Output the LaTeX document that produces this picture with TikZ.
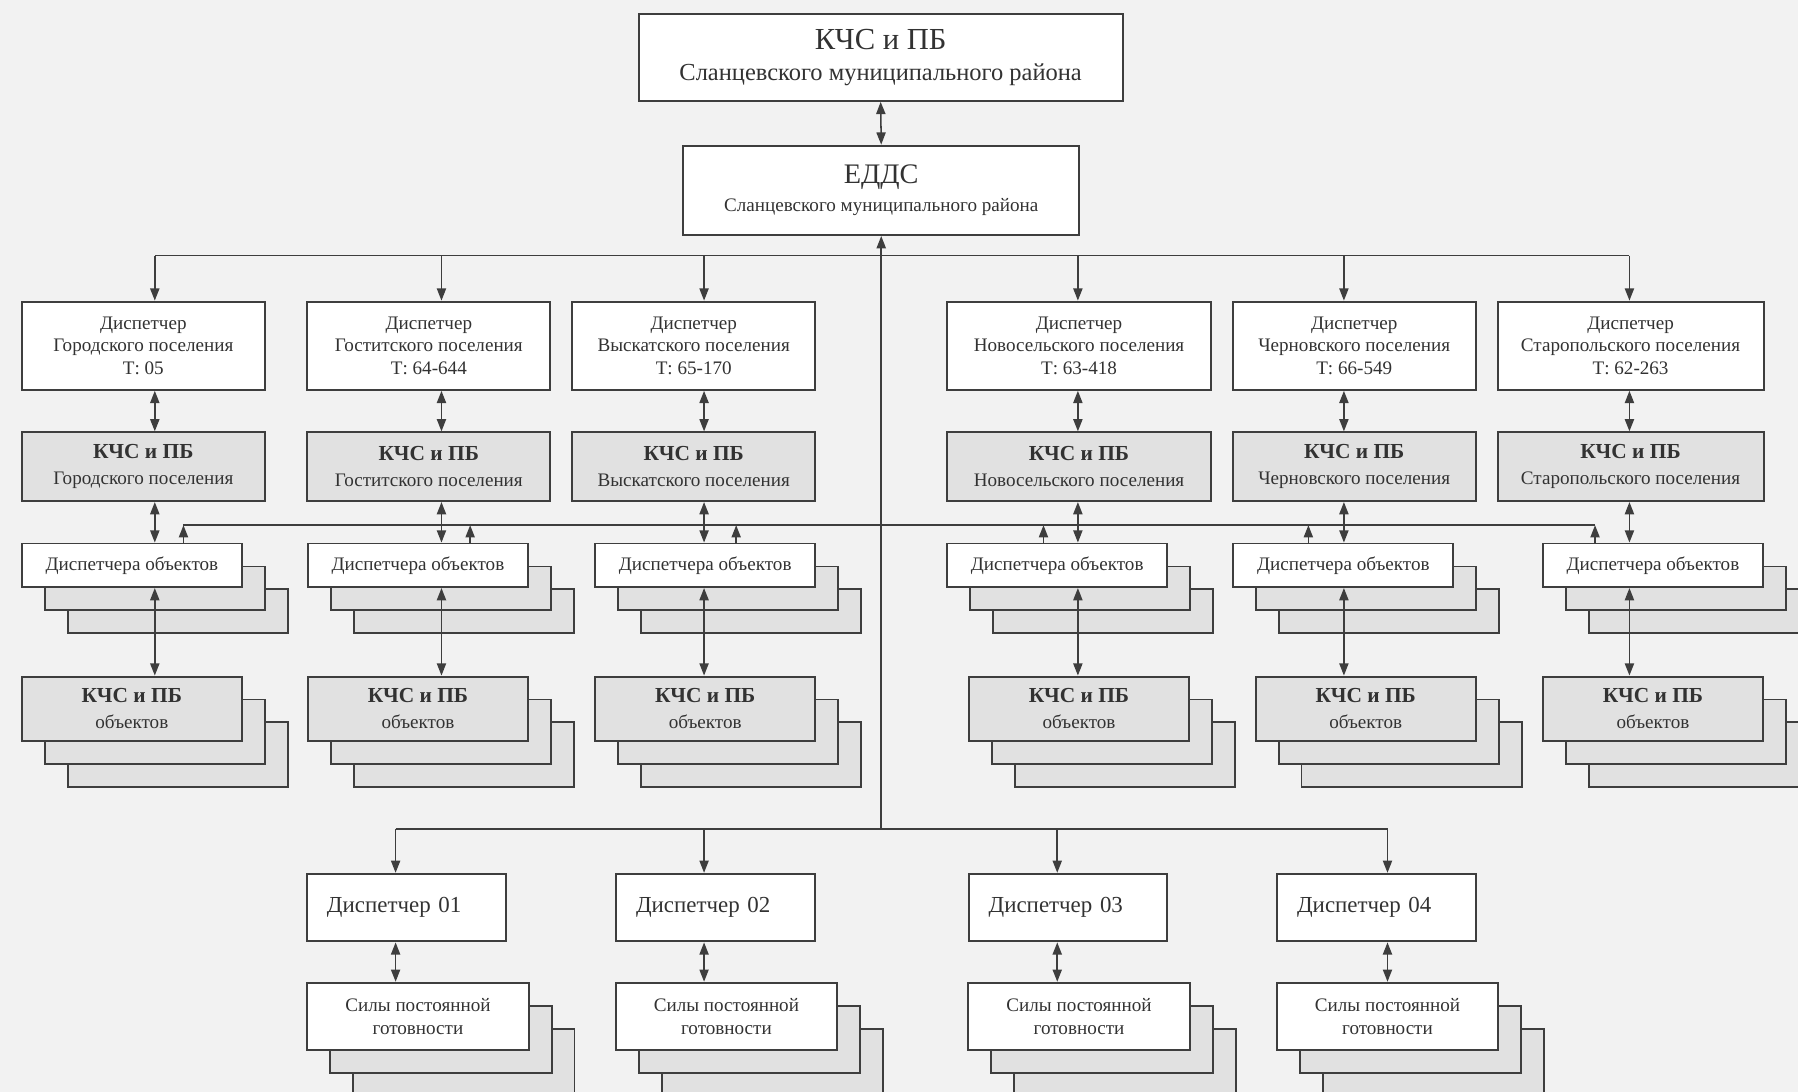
\documentclass[tikz,border=0pt]{standalone}
\usepackage{fontspec}
\setmainfont{Liberation Serif}
\usepackage{tikz}
\usetikzlibrary{arrows.meta,shadows}

\definecolor{linecol}{RGB}{62,62,62}
\definecolor{inkcol}{RGB}{50,50,50}
\definecolor{paper}{RGB}{242,242,242}
\definecolor{shade}{RGB}{225,225,225}

\newcommand{\bodysize}{\fontsize{12.5}{14.6}\selectfont}
\newcommand{\headsize}{\fontsize{14}{16.5}\bfseries\selectfont}

\tikzset{
  plainbox/.style={draw=linecol, line width=1.25pt, fill=white, text=inkcol, inner sep=0pt, align=center, font=\bodysize},
  greybox/.style={plainbox, fill=shade},
  pile/.style={general shadow={shadow xshift=30pt, shadow yshift=-30pt, fill=shade, draw=linecol, line width=1.25pt},
               general shadow={shadow xshift=15pt, shadow yshift=-15pt, fill=shade, draw=linecol, line width=1.25pt}},
  bus/.style={draw=linecol, line width=1pt},
  feed/.style={bus, -{Triangle[length=8pt,width=6pt]}},
  duplex/.style={bus, {Triangle[length=8pt,width=6pt]}-{Triangle[length=8pt,width=6pt]}}
}

\begin{document}
\begin{tikzpicture}[x=0.75pt,y=0.75pt,yscale=-1,xscale=1]
\useasboundingbox (0,0) rectangle (1568,952);
\fill[paper] (0,0) rectangle (1568,952);

% axes of the connectors
\coordinate (a1) at (135,0);
\coordinate (a2) at (385,0);
\coordinate (a3) at (614,0);
\coordinate (a4) at (940,0);
\coordinate (a5) at (1172,0);
\coordinate (a6) at (1421,0);
\coordinate (u1) at (160,0);
\coordinate (u2) at (410,0);
\coordinate (u3) at (642,0);
\coordinate (u4) at (910,0);
\coordinate (u5) at (1141,0);
\coordinate (u6) at (1391,0);
\coordinate (b1) at (345,0);
\coordinate (b2) at (614,0);
\coordinate (b3) at (922,0);
\coordinate (b4) at (1210,0);
\coordinate (bustop) at (0,223);
\coordinate (busmid) at (0,458);
\coordinate (buslow) at (0,723);

% district level
\node[plainbox, minimum width=316.5pt, minimum height=57pt] (kchsraion) at (768,50) {{\fontsize{20}{24}\selectfont КЧС и ПБ}\\[5.5pt]{\fontsize{16}{19}\selectfont Сланцевского муниципального района}};
\node[plainbox, minimum width=258.75pt, minimum height=58.5pt] (edds) at (768.5,166) {{\fontsize{18.5}{22}\selectfont ЕДДС}\\[4pt]Сланцевского муниципального района};

% settlement dispatchers
\node[plainbox, minimum width=159pt, minimum height=57.75pt] (disp1) at (125,301.5) {Диспетчер\\Городского поселения\\Т: 05};
\node[plainbox, minimum width=159pt, minimum height=57.75pt] (disp2) at (374,301.5) {Диспетчер\\Гоститского поселения\\Т: 64-644};
\node[plainbox, minimum width=159pt, minimum height=57.75pt] (disp3) at (605,301.5) {Диспетчер\\Выскатского поселения\\Т: 65-170};
\node[plainbox, minimum width=172.5pt, minimum height=57.75pt] (disp4) at (941,301.5) {Диспетчер\\Новосельского поселения\\Т: 63-418};
\node[plainbox, minimum width=159pt, minimum height=57.75pt] (disp5) at (1181,301.5) {Диспетчер\\Черновского поселения\\Т: 66-549};
\node[plainbox, minimum width=174pt, minimum height=57.75pt] (disp6) at (1422,301.5) {Диспетчер\\Старопольского поселения\\Т: 62-263};

% settlement commissions
\node[greybox, minimum width=159pt, minimum height=45pt] (kchs1) at (125,407) {{\headsize КЧС и ПБ}\\[2.5pt]Городского поселения};
\node[greybox, minimum width=159pt, minimum height=45pt] (kchs2) at (374,407) {{\headsize КЧС и ПБ}\\[2.5pt]Гоститского поселения};
\node[greybox, minimum width=159pt, minimum height=45pt] (kchs3) at (605,407) {{\headsize КЧС и ПБ}\\[2.5pt]Выскатского поселения};
\node[greybox, minimum width=172.5pt, minimum height=45pt] (kchs4) at (941,407) {{\headsize КЧС и ПБ}\\[2.5pt]Новосельского поселения};
\node[greybox, minimum width=159pt, minimum height=45pt] (kchs5) at (1181,407) {{\headsize КЧС и ПБ}\\[2.5pt]Черновского поселения};
\node[greybox, minimum width=174pt, minimum height=45pt] (kchs6) at (1422,407) {{\headsize КЧС и ПБ}\\[2.5pt]Старопольского поселения};

% object dispatchers (stacked)
\node[plainbox, pile, minimum width=144pt, minimum height=28.5pt] (objdisp1) at (115,493) {Диспетчера объектов};
\node[plainbox, pile, minimum width=144pt, minimum height=28.5pt] (objdisp2) at (364.5,493) {Диспетчера объектов};
\node[plainbox, pile, minimum width=144pt, minimum height=28.5pt] (objdisp3) at (615,493) {Диспетчера объектов};
\node[plainbox, pile, minimum width=144pt, minimum height=28.5pt] (objdisp4) at (922,493) {Диспетчера объектов};
\node[plainbox, pile, minimum width=144pt, minimum height=28.5pt] (objdisp5) at (1171.5,493) {Диспетчера объектов};
\node[plainbox, pile, minimum width=144pt, minimum height=28.5pt] (objdisp6) at (1441.5,493) {Диспетчера объектов};

% object commissions (stacked)
\node[greybox, pile, minimum width=144pt, minimum height=42pt] (objkchs1) at (115,618) {{\headsize КЧС и ПБ}\\[2.5pt]объектов};
\node[greybox, pile, minimum width=144pt, minimum height=42pt] (objkchs2) at (364.5,618) {{\headsize КЧС и ПБ}\\[2.5pt]объектов};
\node[greybox, pile, minimum width=144pt, minimum height=42pt] (objkchs3) at (615,618) {{\headsize КЧС и ПБ}\\[2.5pt]объектов};
\node[greybox, pile, minimum width=144pt, minimum height=42pt] (objkchs4) at (941,618) {{\headsize КЧС и ПБ}\\[2.5pt]объектов};
\node[greybox, pile, minimum width=144pt, minimum height=42pt] (objkchs5) at (1191,618) {{\headsize КЧС и ПБ}\\[2.5pt]объектов};
\node[greybox, pile, minimum width=144pt, minimum height=42pt] (objkchs6) at (1441.5,618) {{\headsize КЧС и ПБ}\\[2.5pt]объектов};

% services 01-04
\node[plainbox, minimum width=129.75pt, minimum height=44.25pt, text width=104pt, align=left, font=\fontsize{15}{18}\selectfont] (dd1) at (354.5,791.5) {Диспетчер 01};
\node[plainbox, minimum width=129.75pt, minimum height=44.25pt, text width=104pt, align=left, font=\fontsize{15}{18}\selectfont] (dd2) at (624,791.5) {Диспетчер 02};
\node[plainbox, minimum width=129.75pt, minimum height=44.25pt, text width=104pt, align=left, font=\fontsize{15}{18}\selectfont] (dd3) at (931.5,791.5) {Диспетчер 03};
\node[plainbox, minimum width=129.75pt, minimum height=44.25pt, text width=104pt, align=left, font=\fontsize{15}{18}\selectfont] (dd4) at (1200.5,791.5) {Диспетчер 04};

\node[plainbox, pile, minimum width=144.75pt, minimum height=44.25pt] (sily1) at (364.5,886.5) {Силы постоянной\\готовности};
\node[plainbox, pile, minimum width=144.75pt, minimum height=44.25pt] (sily2) at (633.5,886.5) {Силы постоянной\\готовности};
\node[plainbox, pile, minimum width=144.75pt, minimum height=44.25pt] (sily3) at (941,886.5) {Силы постоянной\\готовности};
\node[plainbox, pile, minimum width=144.75pt, minimum height=44.25pt] (sily4) at (1210,886.5) {Силы постоянной\\готовности};

% Straight Lines
\draw[duplex] (kchsraion.south) -- (edds.north);
\draw[feed] (buslow -| edds.south) -- (edds.south);
\draw[bus] (bustop -| a1) -- (bustop -| a6);
\draw[bus] (busmid -| u1) -- (busmid -| u6);
\draw[bus] (buslow -| b1) -- (buslow -| b4);

% Straight Lines: to settlement dispatchers
\draw[feed] (bustop -| a1) -- (disp1.north -| a1);
\draw[feed] (bustop -| a2) -- (disp2.north -| a2);
\draw[feed] (bustop -| a3) -- (disp3.north -| a3);
\draw[feed] (bustop -| a4) -- (disp4.north -| a4);
\draw[feed] (bustop -| a5) -- (disp5.north -| a5);
\draw[feed] (bustop -| a6) -- (disp6.north -| a6);

% Straight Lines: dispatcher - commission
\draw[duplex] (disp1.south -| a1) -- (kchs1.north -| a1);
\draw[duplex] (disp2.south -| a2) -- (kchs2.north -| a2);
\draw[duplex] (disp3.south -| a3) -- (kchs3.north -| a3);
\draw[duplex] (disp4.south -| a4) -- (kchs4.north -| a4);
\draw[duplex] (disp5.south -| a5) -- (kchs5.north -| a5);
\draw[duplex] (disp6.south -| a6) -- (kchs6.north -| a6);

% Straight Lines: commission - object dispatchers
\draw[duplex] (kchs1.south -| a1) -- (objdisp1.north -| a1);
\draw[duplex] (kchs2.south -| a2) -- (objdisp2.north -| a2);
\draw[duplex] (kchs3.south -| a3) -- (objdisp3.north -| a3);
\draw[duplex] (kchs4.south -| a4) -- (objdisp4.north -| a4);
\draw[duplex] (kchs5.south -| a5) -- (objdisp5.north -| a5);
\draw[duplex] (kchs6.south -| a6) -- (objdisp6.north -| a6);

% Straight Lines: object dispatchers up to the bus
\draw[feed] (objdisp1.north -| u1) -- (busmid -| u1);
\draw[feed] (objdisp2.north -| u2) -- (busmid -| u2);
\draw[feed] (objdisp3.north -| u3) -- (busmid -| u3);
\draw[feed] (objdisp4.north -| u4) -- (busmid -| u4);
\draw[feed] (objdisp5.north -| u5) -- (busmid -| u5);
\draw[feed] (objdisp6.north -| u6) -- (busmid -| u6);

% Straight Lines: object dispatchers - object commissions
\draw[duplex] (objdisp1.south -| a1) -- (objkchs1.north -| a1);
\draw[duplex] (objdisp2.south -| a2) -- (objkchs2.north -| a2);
\draw[duplex] (objdisp3.south -| a3) -- (objkchs3.north -| a3);
\draw[duplex] (objdisp4.south -| a4) -- (objkchs4.north -| a4);
\draw[duplex] (objdisp5.south -| a5) -- (objkchs5.north -| a5);
\draw[duplex] (objdisp6.south -| a6) -- (objkchs6.north -| a6);

% Straight Lines: services
\draw[feed] (buslow -| b1) -- (dd1.north -| b1);
\draw[feed] (buslow -| b2) -- (dd2.north -| b2);
\draw[feed] (buslow -| b3) -- (dd3.north -| b3);
\draw[feed] (buslow -| b4) -- (dd4.north -| b4);
\draw[duplex] (dd1.south -| b1) -- (sily1.north -| b1);
\draw[duplex] (dd2.south -| b2) -- (sily2.north -| b2);
\draw[duplex] (dd3.south -| b3) -- (sily3.north -| b3);
\draw[duplex] (dd4.south -| b4) -- (sily4.north -| b4);

\end{tikzpicture}
\end{document}
